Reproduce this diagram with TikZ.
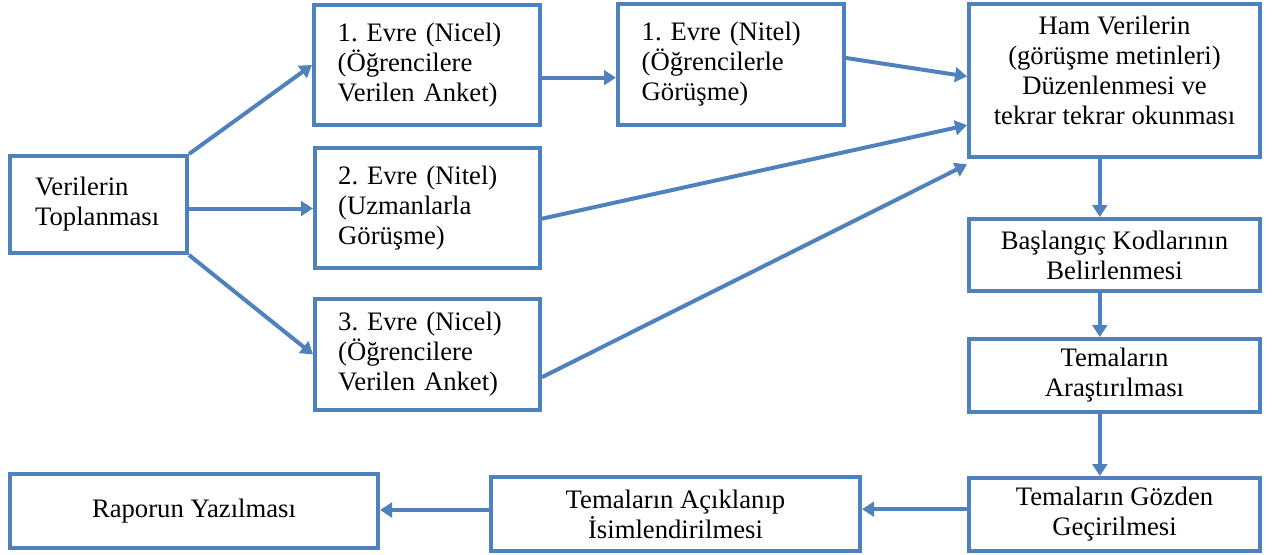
\documentclass[tikz,border=0pt]{standalone}
\usepackage{fontspec}
\setmainfont{Liberation Serif}
\usetikzlibrary{arrows.meta}
\definecolor{bl}{HTML}{4F81BD}
\frenchspacing
\begin{document}
\begin{tikzpicture}[x=0.75pt,y=-0.75pt,
  txt/.style={inner sep=0pt, font=\fontsize{20}{22.5}\selectfont\frenchspacing},
  box/.style={txt, draw=bl, line width=3pt, fill=white},
  lbox/.style={box, align=left},
  cbox/.style={box, align=center},
  arr/.style={draw=bl, line width=3pt, -{Triangle[length=9pt,width=11pt]}}]
\useasboundingbox (0,0) rectangle (1273,554);
% boxes
\node[lbox, text width=95pt, minimum width=132.75pt, minimum height=72.75pt] (V) at (98.5,204.5) {Verilerin\\Toplanması};
\node[lbox, text width=134pt, minimum width=169.5pt, minimum height=90pt] (E1) at (427,65) {1. Evre (Nicel)\\(Öğrencilere\\Verilen Anket)};
\node[lbox, text width=134pt, minimum width=168.75pt, minimum height=90pt] (E2) at (427.5,208) {2. Evre (Nitel)\\(Uzmanlarla\\Görüşme)};
\node[lbox, text width=134pt, minimum width=168.75pt, minimum height=83.25pt] (E3) at (427.5,354.5) {3. Evre (Nicel)\\(Öğrencilere\\Verilen Anket)};
\node[lbox, text width=134pt, minimum width=169.5pt, minimum height=90.75pt] (N1) at (731,64.5) {1. Evre (Nitel)\\(Öğrencilerle\\Görüşme)};
\node[box, minimum width=218.25pt, minimum height=114.75pt] (H) at (1114.5,80.5) {};
\node[txt, align=center] (Ht) at (1114.5,70) {Ham Verilerin\\(görüşme metinleri)\\Düzenlenmesi ve\\tekrar tekrar okunması};
\node[cbox, minimum width=218.25pt, minimum height=54pt] (B) at (1114.5,255) {Başlangıç Kodlarının\\Belirlenmesi};
\node[cbox, minimum width=218.25pt, minimum height=54.75pt] (A) at (1114.5,375.5) {Temaların\\Araştırılması};
\node[cbox, minimum width=218.25pt, minimum height=54.75pt] (G) at (1114.5,514.5) {Temaların Gözden\\Geçirilmesi};
\node[cbox, minimum width=276.75pt, minimum height=55.5pt] (K) at (675.5,514) {Temaların Açıklanıp\\İsimlendirilmesi};
\node[cbox, minimum width=276pt, minimum height=55.5pt] (R) at (194,511) {Raporun Yazılması};
% connectors
\draw[arr] (V.north east) -- (E1.west);
\draw[arr] ([yshift=-3pt]V.east) -- ([yshift=-3pt]V.east -| E2.west);
\draw[arr] (V.south east) -- (E3.west);
\draw[arr] ([yshift=-9.5pt]E1.east) -- ([yshift=-9.5pt]E1.east -| N1.west);
\draw[arr] ([yshift=4.9pt]N1.east) -- ([yshift=3pt]H.west);
\draw[arr] ([yshift=-8pt]E2.east) -- ([yshift=-33.5pt]H.west);
\draw[arr] ([yshift=-17pt]E3.east) -- ([yshift=-4pt]H.south west);
\draw[arr] ([xshift=-11pt]H.south) -- ([xshift=-11pt]H.south |- B.north);
\draw[arr] ([xshift=-11pt]B.south) -- ([xshift=-11pt]B.south |- A.north);
\draw[arr] ([xshift=-11pt]A.south) -- ([xshift=-11pt]A.south |- G.north);
\draw[arr] ([yshift=4pt]G.west) -- ([yshift=4pt]G.west -| K.east);
\draw[arr] ([yshift=3pt]K.west) -- ([yshift=3pt]K.west -| R.east);
\end{tikzpicture}
\end{document}
